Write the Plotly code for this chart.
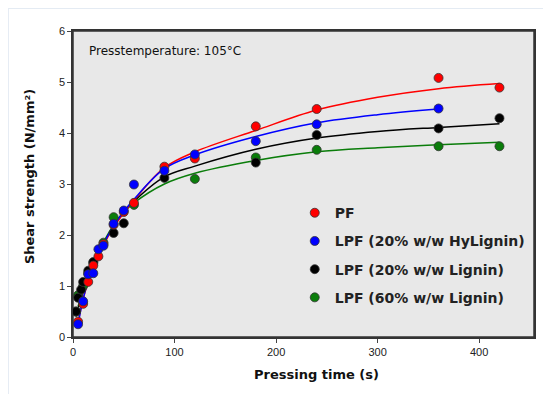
import plotly.graph_objects as go

# ---- measured data points ----
pf_x = [5, 10, 15, 20, 25, 30, 40, 50, 60, 90, 120, 180, 240, 360, 420]
pf_y = [0.30, 0.65, 1.08, 1.40, 1.58, 1.82, 2.20, 2.45, 2.63, 3.34, 3.50, 4.13, 4.47, 5.08, 4.89]

hy_x = [5, 10, 15, 20, 25, 30, 40, 50, 60, 90, 120, 180, 240, 360]
hy_y = [0.25, 0.70, 1.23, 1.25, 1.72, 1.79, 2.22, 2.48, 2.99, 3.26, 3.58, 3.84, 4.17, 4.48]

l20_x = [3, 5, 8, 10, 15, 20, 40, 50, 90, 180, 240, 360, 420]
l20_y = [0.50, 0.77, 0.93, 1.08, 1.30, 1.47, 2.04, 2.23, 3.12, 3.42, 3.96, 4.09, 4.29]

l60_x = [3, 5, 10, 15, 20, 30, 40, 60, 120, 180, 240, 360, 420]
l60_y = [0.50, 0.82, 1.00, 1.25, 1.45, 1.85, 2.35, 2.59, 3.10, 3.52, 3.67, 3.74, 3.74]

# ---- fitted curves ----
fit_x = [5, 10, 15, 20, 30, 40, 50, 60, 90, 120, 180, 240, 300, 360, 420]
pf_fit = [0.28, 0.75, 1.08, 1.35, 1.80, 2.15, 2.43, 2.68, 3.32, 3.63, 4.05, 4.45, 4.70, 4.87, 4.97]
hy_fit_x = [5, 10, 15, 20, 30, 40, 50, 60, 90, 120, 180, 240, 300, 360]
hy_fit = [0.25, 0.75, 1.10, 1.38, 1.82, 2.18, 2.46, 2.70, 3.30, 3.57, 3.93, 4.20, 4.36, 4.47]
l20_fit_x = [3, 5, 10, 15, 20, 30, 40, 50, 60, 90, 120, 180, 240, 300, 360, 420]
l20_fit = [0.40, 0.55, 0.88, 1.15, 1.42, 1.83, 2.17, 2.44, 2.66, 3.14, 3.35, 3.68, 3.90, 4.03, 4.11, 4.18]
l60_fit = [0.60, 0.92, 1.20, 1.46, 1.86, 2.20, 2.45, 2.63, 3.00, 3.21, 3.46, 3.63, 3.71, 3.77, 3.82]

names = ["PF", "LPF (20% w/w HyLignin)", "LPF (20% w/w Lignin)", "LPF (60% w/w Lignin)"]
colors = ["#ff0000", "#0000ff", "#000000", "#0a7d0a"]

x_ticks = [0, 100, 200, 300, 400]
y_ticks = [0, 1, 2, 3, 4, 5, 6]

x_title = "Pressing time (s)"
y_title = "Shear strength (N/mm²)"
note = "Presstemperature: 105°C"

FONT = "Liberation Sans, Arial, sans-serif"
WIDE = "DejaVu Sans, Verdana, sans-serif"

fig = go.Figure()

curves = [(fit_x, pf_fit), (hy_fit_x, hy_fit), (l20_fit_x, l20_fit), (fit_x, l60_fit)]
points = [(pf_x, pf_y), (hy_x, hy_y), (l20_x, l20_y), (l60_x, l60_y)]

order = [3, 2, 0, 1]
for i in order:
    cx, cy = curves[i]
    fig.add_trace(go.Scatter(x=cx, y=cy, mode="lines", line=dict(color=colors[i], width=1.5, shape="spline"),
                             showlegend=False, hoverinfo="skip"))
for i in order:
    px, py = points[i]
    fig.add_trace(go.Scatter(x=px, y=py, mode="markers", name=names[i], legendgroup=names[i],
                             legendrank=i + 1,
                             marker=dict(color=colors[i], size=9, line=dict(color="#333333", width=0.8))))

# plot area (window coords): x 73..534, y 31..337 ; page offsets figure by 8px
fig.update_layout(
    width=551, height=394,
    margin=dict(l=65, r=25, t=23, b=65),
    paper_bgcolor="#e4ebf3",
    plot_bgcolor="rgba(0,0,0,0)",
    font=dict(family=FONT, color="#222222", size=11),
    showlegend=True,
    legend=dict(x=0.481, xanchor="left", y=0.457, yanchor="top",
                bgcolor="rgba(0,0,0,0)", traceorder="grouped", tracegroupgap=7,
                font=dict(family=WIDE, size=14, color="#222222", weight="bold"),
                itemwidth=30),
    shapes=[
        dict(type="rect", xref="paper", yref="paper", x0=-0.139, x1=1.2, y0=-0.4, y1=1.072,
             fillcolor="#ffffff", line=dict(width=0), layer="below"),
        dict(type="rect", xref="paper", yref="paper", x0=0, x1=1, y0=0, y1=1,
             fillcolor="#e8e8e8", line=dict(color="#333333", width=1.5), layer="below"),
    ],
    annotations=[
        dict(text=note, xref="paper", yref="paper", x=0.03, y=0.935,
             xanchor="left", yanchor="middle", showarrow=False,
             font=dict(family=WIDE, size=12, color="#111111")),
        dict(text=x_title, xref="paper", yref="paper", x=0.529, y=-0.124,
             xanchor="center", yanchor="middle", showarrow=False,
             font=dict(family=WIDE, size=13, color="#111111", weight="bold")),
        dict(text=y_title, xref="paper", yref="paper", x=-0.093, y=0.523, textangle=-90,
             xanchor="center", yanchor="middle", showarrow=False,
             font=dict(family=WIDE, size=13, color="#111111", weight="bold")),
    ],
)

fig.update_xaxes(range=[0, 454], tickvals=x_ticks, ticks="outside", ticklen=4, tickwidth=1,
                 showline=True, linecolor="#333333", linewidth=1.5, mirror=True,
                 showgrid=False, zeroline=False,
                 tickfont=dict(family=FONT, size=11, color="#222222"))
fig.update_yaxes(range=[0, 6], tickvals=y_ticks, ticks="outside", ticklen=4, tickwidth=1,
                 showline=True, linecolor="#333333", linewidth=1.5, mirror=True,
                 showgrid=False, zeroline=False,
                 tickfont=dict(family=FONT, size=11, color="#222222"))

fig.write_html("out.html")
